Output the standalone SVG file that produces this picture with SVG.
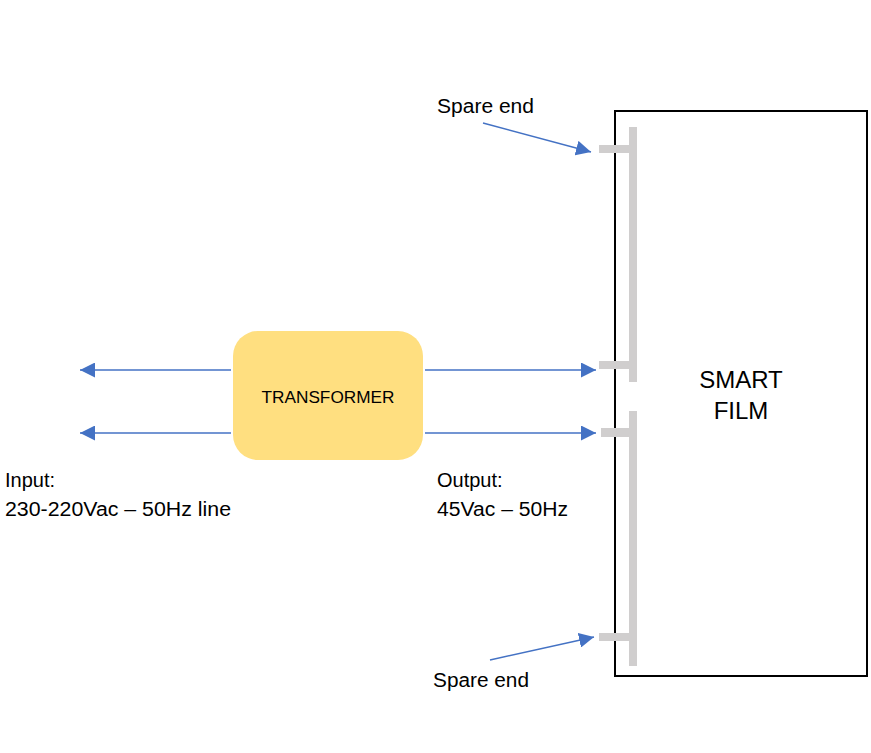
<svg xmlns="http://www.w3.org/2000/svg" width="871" height="753" viewBox="0 0 871 753">
<style>
.t{font-family:"Liberation Sans",Arial,sans-serif;fill:#000}
.c{stroke:#4472C4;stroke-width:1.5;fill:none}
.bar{fill:#D0CECE}
</style>
<defs>
<marker id="ah" viewBox="0 0 10 10" refX="10" refY="5" markerWidth="10" markerHeight="10" markerUnits="userSpaceOnUse" orient="auto">
<path d="M0,0 L10,5 L0,10 Z" fill="#4472C4"/>
</marker>
<marker id="ah2" viewBox="0 0 10 10" refX="10" refY="5" markerWidth="15" markerHeight="15" markerUnits="userSpaceOnUse" orient="auto">
<path d="M0,0 L10,5 L0,10 Z" fill="#4472C4"/>
</marker>
</defs>
<rect width="871" height="753" fill="#fff"/>
<g id="smartfilm">
<rect x="615" y="111" width="252" height="565" fill="#fff" stroke="#000" stroke-width="2"/>
<text class="t" x="741" y="388" font-size="24" text-anchor="middle">SMART</text>
<text class="t" x="741" y="419" font-size="24" text-anchor="middle">FILM</text>
</g>
<g id="busbars">
<rect class="bar" x="629" y="127" width="8" height="255"/>
<rect class="bar" x="599" y="145" width="31" height="8"/>
<rect class="bar" x="599" y="361" width="31" height="8"/>
<rect class="bar" x="629" y="411" width="8" height="255"/>
<rect class="bar" x="601" y="428" width="29" height="9"/>
<rect class="bar" x="599" y="633" width="31" height="8"/>
</g>
<g id="transformer">
<rect x="233" y="331" width="190" height="129" rx="25" fill="#FFDF80"/>
<text class="t" x="328" y="403" font-size="17" text-anchor="middle" textLength="133" lengthAdjust="spacingAndGlyphs">TRANSFORMER</text>
</g>
<g id="connectors">
<line class="c" x1="231" y1="370" x2="80" y2="370" marker-end="url(#ah2)"/>
<line class="c" x1="231" y1="433" x2="80" y2="433" marker-end="url(#ah2)"/>
<line class="c" x1="425" y1="370" x2="596" y2="370" marker-end="url(#ah2)"/>
<line class="c" x1="425" y1="433" x2="596" y2="433" marker-end="url(#ah2)"/>
<line class="c" x1="483" y1="123" x2="591" y2="152" marker-end="url(#ah2)"/>
<line class="c" x1="490" y1="660" x2="594" y2="637" marker-end="url(#ah2)"/>
</g>
<g id="labels">
<text class="t" x="437" y="113" font-size="20" textLength="97" lengthAdjust="spacingAndGlyphs">Spare end</text>
<text class="t" x="433" y="687" font-size="20" textLength="96" lengthAdjust="spacingAndGlyphs">Spare end</text>
<text class="t" x="5" y="487" font-size="20">Input:</text>
<text class="t" x="5" y="516" font-size="20" textLength="226" lengthAdjust="spacingAndGlyphs">230-220Vac – 50Hz line</text>
<text class="t" x="437" y="487" font-size="20">Output:</text>
<text class="t" x="437" y="516" font-size="20" textLength="131" lengthAdjust="spacingAndGlyphs">45Vac – 50Hz</text>
</g>
</svg>
